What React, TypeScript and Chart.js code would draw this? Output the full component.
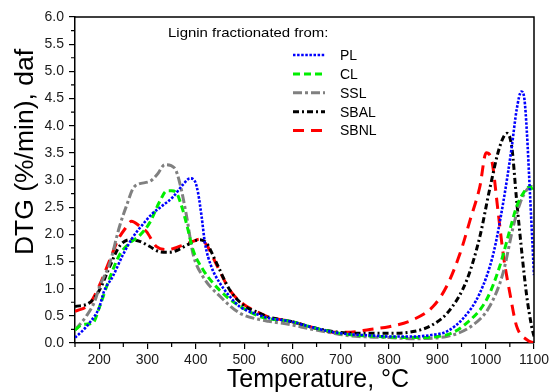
import React, { useEffect, useRef } from 'react';
import { Chart, registerables } from 'chart.js';

Chart.register(...registerables);

const FONT = '"Liberation Sans", Arial, Helvetica, sans-serif';

// Tick values
const xTickValues = [200, 300, 400, 500, 600, 700, 800, 900, 1000, 1100];
const xMinorValues = [150, 250, 350, 450, 550, 650, 750, 850, 950, 1050];
const yTickValues = [0, 0.5, 1, 1.5, 2, 2.5, 3, 3.5, 4, 4.5, 5, 5.5, 6];
const yMinorValues = [0.25, 0.75, 1.25, 1.75, 2.25, 2.75, 3.25, 3.75, 4.25, 4.75, 5.25, 5.75];

const xTitle = 'Temperature, °C';
const yTitle = 'DTG (%/min), daf';
const legendTitle = 'Lignin fractionated from:';
const seriesNames = ['PL', 'CL', 'SSL', 'SBAL', 'SBNL'];

// PL (blue, dotted)
const plTemp = [150, 165, 180, 200, 210, 228, 249, 270, 290, 310, 330, 353, 373, 388, 398, 405, 412, 419, 432, 450, 470, 491, 530, 550, 595, 636, 684, 720, 760, 800, 850, 890, 919, 954, 988, 1016, 1036, 1054, 1064, 1074, 1080, 1085, 1092, 1100];
const plDtg = [0.10, 0.22, 0.37, 0.65, 0.95, 1.22, 1.62, 1.95, 2.18, 2.38, 2.52, 2.69, 2.91, 3.03, 2.98, 2.75, 2.33, 1.84, 1.41, 1.10, 0.86, 0.67, 0.52, 0.46, 0.40, 0.30, 0.20, 0.16, 0.14, 0.12, 0.12, 0.15, 0.21, 0.46, 0.92, 1.65, 2.57, 3.61, 4.29, 4.63, 4.50, 3.92, 2.69, 1.25];

// CL (green, dashed)
const clTemp = [150, 166, 187, 201, 222, 242, 263, 284, 305, 325, 340, 350, 360, 373, 384, 394, 415, 436, 463, 498, 532, 550, 595, 636, 684, 720, 760, 800, 850, 919, 961, 1002, 1029, 1050, 1064, 1078, 1092, 1100];
const clDtg = [0.24, 0.34, 0.37, 0.67, 1.20, 1.62, 1.84, 1.98, 2.22, 2.60, 2.80, 2.80, 2.76, 2.45, 2.08, 1.72, 1.35, 1.10, 0.86, 0.64, 0.49, 0.45, 0.40, 0.30, 0.20, 0.15, 0.13, 0.11, 0.10, 0.15, 0.37, 0.80, 1.41, 2.08, 2.51, 2.76, 2.88, 2.75];

// SSL (gray, dash-dot)
const sslTemp = [150, 173, 190, 201, 222, 242, 256, 273, 304, 320, 336, 356, 367, 381, 394, 415, 450, 491, 532, 550, 595, 636, 684, 720, 760, 800, 850, 919, 975, 1008, 1036, 1057, 1071, 1085, 1095, 1100];
const sslDtg = [0.24, 0.49, 0.75, 1.04, 1.47, 2.14, 2.51, 2.88, 2.97, 3.10, 3.28, 3.22, 2.94, 2.33, 1.65, 1.22, 0.86, 0.55, 0.43, 0.40, 0.34, 0.26, 0.18, 0.13, 0.11, 0.10, 0.08, 0.12, 0.34, 0.67, 1.29, 2.14, 2.57, 2.82, 2.88, 2.85];

// SBAL (black, dash-dot-dot)
const sbalTemp = [150, 180, 201, 222, 242, 263, 284, 304, 325, 346, 365, 381, 408, 422, 443, 470, 498, 532, 550, 595, 636, 684, 720, 760, 800, 850, 891, 926, 961, 988, 1008, 1029, 1044, 1054, 1064, 1075, 1085, 1095, 1100];
const sbalDtg = [0.67, 0.74, 0.98, 1.41, 1.78, 1.90, 1.87, 1.78, 1.68, 1.67, 1.72, 1.80, 1.90, 1.84, 1.47, 0.98, 0.70, 0.55, 0.48, 0.40, 0.30, 0.21, 0.18, 0.18, 0.18, 0.21, 0.34, 0.61, 1.16, 1.96, 2.82, 3.61, 3.86, 3.61, 2.63, 1.65, 0.86, 0.31, 0.12];

// SBNL (red, long dash)
const sbnlTemp = [150, 180, 201, 222, 239, 255, 267, 284, 298, 318, 342, 367, 394, 408, 422, 443, 470, 498, 532, 550, 595, 636, 684, 720, 760, 800, 850, 891, 919, 947, 968, 988, 1001, 1012, 1026, 1037, 1050, 1064, 1085, 1100];
const sbnlDtg = [0.58, 0.72, 1.07, 1.53, 1.90, 2.12, 2.24, 2.15, 2.05, 1.78, 1.72, 1.78, 1.87, 1.91, 1.81, 1.44, 0.98, 0.72, 0.55, 0.48, 0.40, 0.30, 0.20, 0.20, 0.25, 0.30, 0.43, 0.67, 1.04, 1.65, 2.27, 2.88, 3.50, 3.38, 2.39, 1.59, 0.92, 0.31, 0.06, 0.00];

const temps = [plTemp, clTemp, sslTemp, sbalTemp, sbnlTemp];
const values = [plDtg, clDtg, sslDtg, sbalDtg, sbnlDtg];
const colors = ['#0000ff', '#00ee00', '#808080', '#000000', '#ff0000'];
const dashes = [[2.5, 1.6], [7, 4], [9, 3, 3, 3], [6, 3, 2, 3], [11, 7]];
const widths = [2.6, 3, 3, 3, 3];

const decorPlugin = {
  id: 'decor',
  afterDraw(chart: any) {
    const { ctx, chartArea: a, scales } = chart;
    const x = scales.x;
    const y = scales.y;
    ctx.save();
    // box top/right
    ctx.strokeStyle = '#000';
    ctx.lineWidth = 1.5;
    ctx.setLineDash([]);
    ctx.beginPath();
    ctx.moveTo(a.left, a.top);
    ctx.lineTo(a.right, a.top);
    ctx.lineTo(a.right, a.bottom);
    ctx.stroke();
    // minor ticks
    ctx.lineWidth = 1.2;
    ctx.beginPath();
    xMinorValues.forEach((v) => {
      const px = x.getPixelForValue(v);
      ctx.moveTo(px, a.bottom);
      ctx.lineTo(px, a.bottom + 4);
    });
    yMinorValues.forEach((v) => {
      const py = y.getPixelForValue(v);
      ctx.moveTo(a.left, py);
      ctx.lineTo(a.left - 4, py);
    });
    ctx.stroke();

    // axis titles
    ctx.fillStyle = '#000';
    ctx.font = `25px ${FONT}`;
    ctx.textAlign = 'center';
    ctx.textBaseline = 'alphabetic';
    ctx.fillText(xTitle, 318, 387);

    ctx.save();
    ctx.translate(33, 152);
    ctx.rotate(-Math.PI / 2);
    ctx.scale(1.06, 1);
    ctx.fillText(yTitle, 0, 0);
    ctx.restore();

    // legend
    ctx.save();
    ctx.font = `13px ${FONT}`;
    ctx.textAlign = 'left';
    ctx.translate(168, 36.5);
    ctx.scale(1.15, 1);
    ctx.fillText(legendTitle, 0, 0);
    ctx.restore();

    const ds = chart.data.datasets;
    ctx.font = `14px ${FONT}`;
    ctx.textAlign = 'left';
    ctx.textBaseline = 'middle';
    ds.forEach((d: any, i: number) => {
      const cy = 55 + i * 18.9;
      ctx.save();
      ctx.strokeStyle = d.borderColor;
      ctx.lineWidth = d.borderWidth;
      ctx.setLineDash(d.borderDash || []);
      ctx.beginPath();
      ctx.moveTo(293, cy);
      ctx.lineTo(325, cy);
      ctx.stroke();
      ctx.restore();
      ctx.fillStyle = '#000';
      ctx.fillText(d.label, 340, cy + 1);
    });
    ctx.restore();
  },
};

export default function App() {
  const ref = useRef<HTMLCanvasElement | null>(null);
  useEffect(() => {
    if (!ref.current) return;
    const datasets = seriesNames.map((name, i) => ({
      label: name,
      data: temps[i].map((t, j) => ({ x: t, y: values[i][j] })),
      borderColor: colors[i],
      backgroundColor: colors[i],
      borderDash: dashes[i],
      borderWidth: widths[i],
      pointRadius: 0,
      fill: false,
      cubicInterpolationMode: 'monotone' as const,
    }));
    const chart = new Chart(ref.current, {
      type: 'line',
      data: { datasets },
      options: {
        animation: false,
        responsive: false,
        maintainAspectRatio: false,
        layout: { padding: { top: 17, right: 19, left: 0, bottom: 0 } },
        plugins: { legend: { display: false }, tooltip: { enabled: false } },
        scales: {
          x: {
            type: 'linear',
            min: 150,
            max: 1100,
            afterBuildTicks: (s: any) => {
              s.ticks = xTickValues.map((v) => ({ value: v }));
            },
            afterFit: (s: any) => {
              s.height = 49;
            },
            grid: { display: true, drawOnChartArea: false, drawTicks: true, tickLength: 6, color: '#000', lineWidth: 1.2 },
            border: { display: true, color: '#000', width: 1.5 },
            ticks: {
              font: { family: FONT, size: 14 },
              color: '#1a1a1a',
              padding: 3,
              maxRotation: 0,
              autoSkip: false,
              callback: (v: any) => String(v),
            },
            title: { display: false },
          },
          y: {
            type: 'linear',
            min: 0,
            max: 6,
            afterBuildTicks: (s: any) => {
              s.ticks = yTickValues.map((v) => ({ value: v }));
            },
            afterFit: (s: any) => {
              s.width = 75;
            },
            grid: { display: true, drawOnChartArea: false, drawTicks: true, tickLength: 6, color: '#000', lineWidth: 1.2 },
            border: { display: true, color: '#000', width: 1.5 },
            ticks: {
              font: { family: FONT, size: 14 },
              color: '#1a1a1a',
              padding: 5,
              autoSkip: false,
              callback: (v: any) => Number(v).toFixed(1),
            },
            title: { display: false },
          },
        },
      },
      plugins: [decorPlugin],
    });
    return () => chart.destroy();
  }, []);
  return (
    <div style={{ position: 'absolute', left: 0, top: 0, width: 553, height: 392, background: '#fff' }}>
      <canvas ref={ref} width={553} height={392} style={{ display: 'block' }} />
    </div>
  );
}
